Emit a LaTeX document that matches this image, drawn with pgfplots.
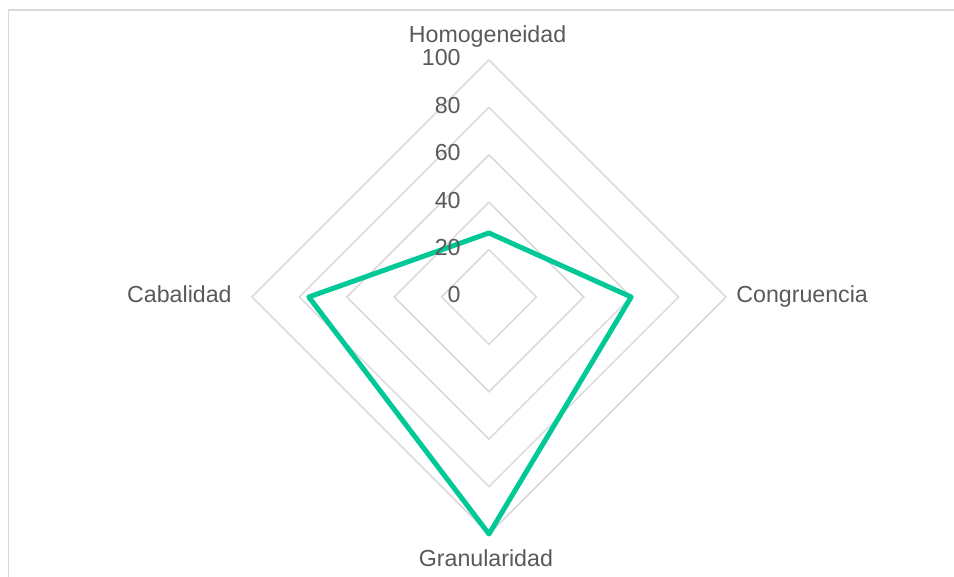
\documentclass[border=0pt]{standalone}
\usepackage{fontspec}
\setmainfont{Liberation Sans}
\usepackage{pgfplots}
\pgfplotsset{compat=1.18}

\definecolor{ringgray}{HTML}{D9D9D9}
\definecolor{labelgray}{HTML}{595959}
\definecolor{seriesgreen}{RGB}{0,200,150}

\begin{document}
\begin{tikzpicture}[
    lbl/.style={font=\fontsize{11.6}{13}\selectfont, text=labelgray, inner sep=0pt},
]
\begin{axis}[
    x=1.185pt, y=1.185pt,
    xmin=-206.3, xmax=196.2,
    ymin=-118.1, ymax=125.3,
    hide axis,
    clip=false,
    ring/.style={draw=ringgray, line width=0.75pt, mark=none},
]
% chart frame (left and top edges visible)
\draw[ringgray, line width=0.75pt] (axis cs:-202.7,-118.1) -- (axis cs:-202.7,121.1) -- (axis cs:196.2,121.1);

% diamond grid rings
\addplot[ring] coordinates {(0,20) (20,0) (0,-20) (-20,0) (0,20)};
\addplot[ring] coordinates {(0,40) (40,0) (0,-40) (-40,0) (0,40)};
\addplot[ring] coordinates {(0,60) (60,0) (0,-60) (-60,0) (0,60)};
\addplot[ring] coordinates {(0,80) (80,0) (0,-80) (-80,0) (0,80)};
\addplot[ring] coordinates {(0,100) (100,0) (0,-100) (-100,0) (0,100)};

% series: Homogeneidad, Congruencia, Granularidad, Cabalidad
\addplot[draw=seriesgreen, line width=2.5pt, line join=round, line cap=round, mark=none]
    coordinates {(0,27) (60,0) (0,-100) (-76,0) (0,27)};

% radial tick labels
\node[lbl, anchor=base east] at (axis cs:-11.8,-2.5) {0};
\node[lbl, anchor=base east] at (axis cs:-11.8,17.5) {20};
\node[lbl, anchor=base east] at (axis cs:-11.8,37.5) {40};
\node[lbl, anchor=base east] at (axis cs:-11.8,57.5) {60};
\node[lbl, anchor=base east] at (axis cs:-11.8,77.5) {80};
\node[lbl, anchor=base east] at (axis cs:-11.8,97.5) {100};

% category labels
\node[lbl, anchor=base] at (axis cs:-0.6,107.2) {Homogeneidad};
\node[lbl, anchor=base west] at (axis cs:104.2,-2.5) {Congruencia};
\node[lbl, anchor=base] at (axis cs:-1.3,-113.9) {Granularidad};
\node[lbl, anchor=base east] at (axis cs:-108.4,-2.5) {Cabalidad};

\coordinate (bbl) at (axis cs:-206.3,-118.1);
\coordinate (btr) at (axis cs:196.2,125.3);
\end{axis}
\pgfresetboundingbox
\useasboundingbox (bbl) rectangle (btr);
\end{tikzpicture}
\end{document}
